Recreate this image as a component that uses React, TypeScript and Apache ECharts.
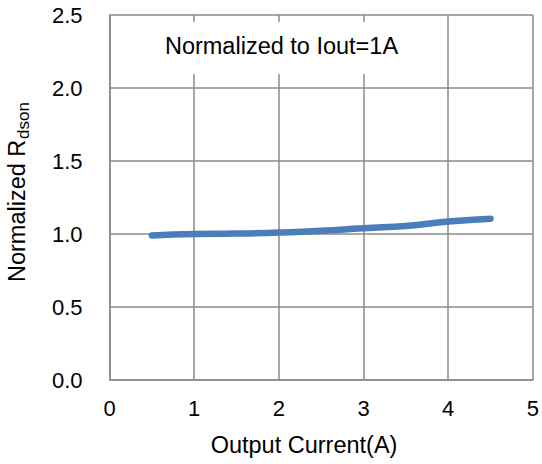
import React, { useEffect, useRef } from "react";
import * as echarts from "echarts";

const currents = [0.5, 1, 1.5, 2, 2.5, 3, 3.5, 4, 4.5];
const rdson = [0.99, 1.0, 1.003, 1.01, 1.022, 1.04, 1.055, 1.085, 1.105];
const xTicks = [0, 1, 2, 3, 4, 5];
const yTicks = [0, 0.5, 1.0, 1.5, 2.0, 2.5];
const annotation = "Normalized to Iout=1A";
const xAxisName = "Output Current(A)";
const yAxisNameMain = "Normalized R";
const yAxisNameSub = "dson";

const FONT = "Arial, 'Liberation Sans', sans-serif";

export default function App() {
  const ref = useRef<HTMLDivElement>(null);
  useEffect(() => {
    const chart = echarts.init(ref.current!, null, { renderer: "svg" });
    const gridColor = "#8a8a8a";
    chart.setOption({
      animation: false,
      backgroundColor: "#ffffff",
      grid: { left: 109.5, right: 6.5, top: 15, bottom: 84, containLabel: false },
      xAxis: {
        type: "value",
        min: xTicks[0],
        max: xTicks[xTicks.length - 1],
        interval: 1,
        axisLine: { show: true, onZero: false, lineStyle: { color: gridColor, width: 1.5 } },
        axisTick: { show: false },
        axisLabel: { margin: 17, fontFamily: FONT, fontSize: 22, color: "#000" },
        splitLine: { show: true, lineStyle: { color: gridColor, width: 1.5 } },
      },
      yAxis: {
        type: "value",
        min: yTicks[0],
        max: yTicks[yTicks.length - 1],
        interval: 0.5,
        axisLine: { show: true, lineStyle: { color: gridColor, width: 1.5 } },
        axisTick: { show: false },
        axisLabel: {
          margin: 27,
          fontFamily: FONT,
          fontSize: 22,
          color: "#000",
          formatter: (v: number) => v.toFixed(1),
        },
        splitLine: { show: true, lineStyle: { color: gridColor, width: 1.5 } },
      },
      graphic: [
        {
          type: "rect",
          shape: { x: 118, y: 22, width: 305, height: 52 },
          style: { fill: "#ffffff" },
          z: 5,
        },
        {
          type: "text",
          x: 281.5,
          y: 46,
          z: 6,
          style: {
            text: annotation,
            fontFamily: FONT,
            fontSize: 23.5,
            fill: "#000",
            align: "center",
            verticalAlign: "middle",
          },
        },
        {
          type: "text",
          x: 304,
          y: 445,
          z: 6,
          style: {
            text: xAxisName,
            fontFamily: FONT,
            fontSize: 23.5,
            fill: "#000",
            align: "center",
            verticalAlign: "middle",
          },
        },
        {
          type: "text",
          x: 16.5,
          y: 282,
          rotation: Math.PI / 2,
          z: 6,
          style: {
            text: yAxisNameMain,
            fontFamily: FONT,
            fontSize: 23.5,
            fill: "#000",
            align: "left",
            verticalAlign: "middle",
          },
        },
        {
          type: "text",
          x: 23,
          y: 139,
          rotation: Math.PI / 2,
          z: 6,
          style: {
            text: yAxisNameSub,
            fontFamily: FONT,
            fontSize: 17,
            fill: "#000",
            align: "left",
            verticalAlign: "middle",
          },
        },
      ],
      series: [
        {
          type: "line",
          data: currents.map((x, i) => [x, rdson[i]]),
          smooth: true,
          symbol: "none",
          lineStyle: { color: "#4a7ebb", width: 6.5, cap: "round" },
          z: 10,
        },
      ],
    });
    return () => chart.dispose();
  }, []);
  return (
    <div
      ref={ref}
      style={{ position: "absolute", left: 0, top: 0, width: 542, height: 464 }}
    />
  );
}
